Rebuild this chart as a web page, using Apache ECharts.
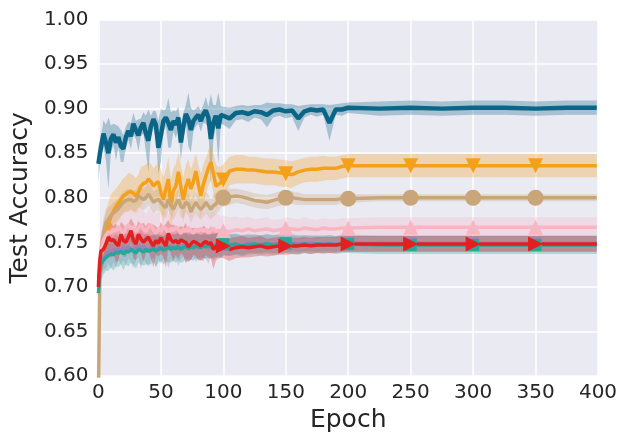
<!DOCTYPE html>
<html>
<head>
    <meta charset="utf-8">
    <title>test accuracy</title>
    <script src="https://cdn.jsdelivr.net/npm/echarts@6/dist/echarts.min.js"></script>
    <style>
        body { margin: 0; background: #fff; }
        #chart { width: 621px; height: 438px; }
    </style>
</head>
<body>
<div id="chart"></div>
<script>
    // epochs where values were read (dense early, sparse once flat)
    var epochs = [0, 1,
        2, 4, 6, 8, 10, 12, 14, 16, 18, 20,
        22, 24, 26, 28, 30, 32, 34, 36, 38, 40,
        42, 44, 46, 48, 50, 52, 54, 56, 58, 60,
        62, 64, 66, 68, 70, 72, 74, 76, 78, 80,
        82, 84, 86, 88, 90, 92, 94, 96, 98, 100,
        105, 110, 115, 120, 125, 130, 135, 140, 145, 150,
        155, 160, 165, 170, 175, 180, 185, 190, 195, 200,
        225, 250, 275, 300, 325, 350, 375, 399];
    var xTicks = [0, 50, 100, 150, 200, 250, 300, 350, 400];
    var yTicks = [0.60, 0.65, 0.70, 0.75, 0.80, 0.85, 0.90, 0.95, 1.00];
    var markerEpochs = [100, 150, 200, 250, 300, 350];

    var blueMean = [0.838, 0.848,
        0.856, 0.872, 0.862, 0.850, 0.866, 0.871, 0.862, 0.868, 0.858, 0.855,
        0.868, 0.875, 0.869, 0.883, 0.876, 0.870, 0.879, 0.884, 0.872, 0.864,
        0.880, 0.888, 0.882, 0.856, 0.870, 0.886, 0.890, 0.884, 0.876, 0.886,
        0.882, 0.890, 0.862, 0.880, 0.894, 0.888, 0.876, 0.886, 0.890, 0.893,
        0.886, 0.894, 0.898, 0.890, 0.866, 0.884, 0.892, 0.878, 0.893, 0.892,
        0.889, 0.895, 0.896, 0.894, 0.897, 0.896, 0.893, 0.898, 0.899, 0.897,
        0.898, 0.889, 0.897, 0.899, 0.898, 0.899, 0.884, 0.899, 0.899, 0.901,
        0.900, 0.901, 0.900, 0.901, 0.901, 0.900, 0.901, 0.901];
    var blueStd = [0.020, 0.015,
        0.012, 0.015, 0.020, 0.040, 0.015, 0.012, 0.020, 0.012, 0.018, 0.015,
        0.012, 0.010, 0.015, 0.012, 0.010, 0.018, 0.010, 0.012, 0.020, 0.035,
        0.012, 0.010, 0.015, 0.030, 0.030, 0.012, 0.010, 0.028, 0.020, 0.012,
        0.015, 0.012, 0.020, 0.015, 0.010, 0.030, 0.025, 0.012, 0.010, 0.010,
        0.012, 0.010, 0.015, 0.012, 0.050, 0.020, 0.012, 0.040, 0.010, 0.010,
        0.012, 0.008, 0.008, 0.009, 0.007, 0.008, 0.014, 0.008, 0.007, 0.008,
        0.007, 0.014, 0.007, 0.006, 0.007, 0.006, 0.020, 0.006, 0.007, 0.006,
        0.008, 0.008, 0.008, 0.008, 0.008, 0.008, 0.008, 0.008];

    var orangeMean = [0.700, 0.712,
        0.728, 0.748, 0.761, 0.770, 0.779, 0.785, 0.790, 0.794, 0.798, 0.802,
        0.804, 0.806, 0.807, 0.805, 0.802, 0.806, 0.813, 0.816, 0.817, 0.821,
        0.818, 0.813, 0.816, 0.818, 0.806, 0.798, 0.810, 0.821, 0.790, 0.808,
        0.813, 0.829, 0.812, 0.798, 0.812, 0.821, 0.810, 0.818, 0.830, 0.815,
        0.802, 0.815, 0.824, 0.833, 0.840, 0.828, 0.813, 0.815, 0.817, 0.820,
        0.830, 0.832, 0.832, 0.831, 0.831, 0.830, 0.829, 0.829, 0.828, 0.827,
        0.826, 0.829, 0.831, 0.832, 0.832, 0.833, 0.833, 0.833, 0.835, 0.836,
        0.836, 0.836, 0.836, 0.836, 0.836, 0.836, 0.836, 0.836];
    var orangeStd = [0.010, 0.015,
        0.020, 0.025, 0.025, 0.025, 0.025, 0.022, 0.020, 0.020, 0.020, 0.020,
        0.020, 0.022, 0.020, 0.020, 0.020, 0.020, 0.022, 0.020, 0.020, 0.020,
        0.020, 0.020, 0.020, 0.022, 0.025, 0.025, 0.022, 0.025, 0.030, 0.025,
        0.025, 0.022, 0.025, 0.025, 0.025, 0.022, 0.022, 0.022, 0.020, 0.022,
        0.025, 0.022, 0.020, 0.020, 0.020, 0.022, 0.025, 0.020, 0.018, 0.018,
        0.016, 0.016, 0.016, 0.015, 0.015, 0.015, 0.015, 0.015, 0.015, 0.015,
        0.015, 0.014, 0.014, 0.014, 0.014, 0.014, 0.013, 0.013, 0.013, 0.013,
        0.013, 0.013, 0.013, 0.013, 0.013, 0.013, 0.013, 0.013];

    var tanMean = [0.575, 0.700,
        0.738, 0.760, 0.772, 0.776, 0.780, 0.783, 0.785, 0.788, 0.792, 0.795,
        0.797, 0.798, 0.798, 0.796, 0.797, 0.802, 0.800, 0.798, 0.800, 0.804,
        0.800, 0.795, 0.797, 0.798, 0.795, 0.791, 0.789, 0.798, 0.792, 0.787,
        0.793, 0.798, 0.790, 0.789, 0.795, 0.793, 0.784, 0.790, 0.795, 0.790,
        0.787, 0.790, 0.795, 0.791, 0.787, 0.791, 0.793, 0.796, 0.799, 0.800,
        0.801, 0.802, 0.801, 0.799, 0.797, 0.796, 0.795, 0.797, 0.799, 0.800,
        0.800, 0.799, 0.798, 0.798, 0.798, 0.798, 0.798, 0.798, 0.799, 0.799,
        0.800, 0.800, 0.800, 0.800, 0.800, 0.800, 0.800, 0.800];
    var tanStd = [0.020, 0.030,
        0.020, 0.015, 0.014, 0.013, 0.012, 0.012, 0.012, 0.012, 0.012, 0.012,
        0.012, 0.012, 0.012, 0.012, 0.012, 0.012, 0.012, 0.012, 0.012, 0.012,
        0.012, 0.012, 0.012, 0.012, 0.012, 0.012, 0.012, 0.012, 0.012, 0.012,
        0.012, 0.012, 0.012, 0.012, 0.012, 0.012, 0.012, 0.012, 0.012, 0.012,
        0.012, 0.012, 0.012, 0.012, 0.012, 0.012, 0.012, 0.012, 0.010, 0.010,
        0.009, 0.008, 0.008, 0.008, 0.008, 0.008, 0.008, 0.008, 0.008, 0.008,
        0.007, 0.007, 0.006, 0.006, 0.006, 0.006, 0.006, 0.006, 0.005, 0.005,
        0.004, 0.004, 0.004, 0.004, 0.004, 0.004, 0.004, 0.004];

    var pinkMean = [0.710, 0.728,
        0.740, 0.752, 0.758, 0.762, 0.760, 0.765, 0.762, 0.768, 0.764, 0.760,
        0.766, 0.770, 0.764, 0.768, 0.762, 0.766, 0.770, 0.765, 0.762, 0.767,
        0.770, 0.764, 0.760, 0.766, 0.762, 0.768, 0.765, 0.760, 0.766, 0.763,
        0.768, 0.764, 0.760, 0.765, 0.762, 0.767, 0.763, 0.760, 0.765, 0.762,
        0.766, 0.762, 0.765, 0.760, 0.763, 0.766, 0.762, 0.764, 0.761, 0.763,
        0.762, 0.764, 0.763, 0.765, 0.763, 0.764, 0.765, 0.763, 0.764, 0.766,
        0.765, 0.764, 0.766, 0.765, 0.764, 0.766, 0.765, 0.765, 0.766, 0.766,
        0.767, 0.767, 0.767, 0.767, 0.767, 0.767, 0.767, 0.767];
    var pinkStd = [0.025, 0.022,
        0.020, 0.020, 0.019, 0.020, 0.021, 0.019, 0.022, 0.019, 0.020, 0.022,
        0.019, 0.020, 0.022, 0.019, 0.022, 0.020, 0.019, 0.021, 0.020, 0.019,
        0.020, 0.021, 0.022, 0.019, 0.020, 0.019, 0.021, 0.022, 0.019, 0.020,
        0.019, 0.020, 0.022, 0.019, 0.020, 0.019, 0.021, 0.020, 0.019, 0.020,
        0.019, 0.020, 0.019, 0.021, 0.020, 0.019, 0.020, 0.018, 0.018, 0.017,
        0.016, 0.015, 0.014, 0.014, 0.013, 0.013, 0.013, 0.012, 0.012, 0.012,
        0.012, 0.012, 0.012, 0.011, 0.011, 0.011, 0.011, 0.011, 0.011, 0.011,
        0.011, 0.011, 0.011, 0.011, 0.011, 0.011, 0.011, 0.011];

    var purpleMean = [0.705, 0.720,
        0.728, 0.733, 0.736, 0.740, 0.738, 0.742, 0.740, 0.743, 0.741, 0.744,
        0.742, 0.745, 0.743, 0.741, 0.744, 0.746, 0.742, 0.745, 0.743, 0.741,
        0.744, 0.746, 0.743, 0.745, 0.742, 0.744, 0.746, 0.743, 0.745, 0.744,
        0.746, 0.743, 0.745, 0.747, 0.744, 0.746, 0.745, 0.747, 0.744, 0.746,
        0.745, 0.747, 0.746, 0.744, 0.747, 0.745, 0.746, 0.748, 0.746, 0.747,
        0.747, 0.748, 0.747, 0.749, 0.748, 0.748, 0.749, 0.748, 0.749, 0.748,
        0.749, 0.748, 0.749, 0.749, 0.748, 0.749, 0.749, 0.748, 0.749, 0.749,
        0.749, 0.749, 0.749, 0.749, 0.749, 0.749, 0.749, 0.749];
    var purpleStd = [0.020, 0.018,
        0.015, 0.014, 0.016, 0.013, 0.018, 0.014, 0.020, 0.013, 0.016, 0.014,
        0.018, 0.013, 0.015, 0.020, 0.014, 0.013, 0.022, 0.014, 0.016, 0.018,
        0.014, 0.013, 0.020, 0.014, 0.016, 0.013, 0.015, 0.022, 0.014, 0.016,
        0.013, 0.020, 0.014, 0.013, 0.018, 0.014, 0.015, 0.013, 0.016, 0.014,
        0.013, 0.015, 0.014, 0.018, 0.013, 0.015, 0.014, 0.013, 0.014, 0.012,
        0.012, 0.011, 0.011, 0.011, 0.010, 0.010, 0.010, 0.010, 0.010, 0.010,
        0.009, 0.009, 0.009, 0.009, 0.009, 0.009, 0.009, 0.009, 0.009, 0.009,
        0.009, 0.009, 0.009, 0.009, 0.009, 0.009, 0.009, 0.009];

    var tealMean = [0.693, 0.715,
        0.725, 0.730, 0.733, 0.735, 0.737, 0.736, 0.739, 0.738, 0.740, 0.737,
        0.740, 0.739, 0.742, 0.740, 0.738, 0.742, 0.741, 0.739, 0.742, 0.740,
        0.741, 0.743, 0.740, 0.742, 0.744, 0.741, 0.743, 0.745, 0.742, 0.744,
        0.743, 0.745, 0.742, 0.744, 0.746, 0.743, 0.745, 0.744, 0.746, 0.745,
        0.744, 0.746, 0.745, 0.747, 0.745, 0.746, 0.747, 0.745, 0.746, 0.748,
        0.747, 0.748, 0.746, 0.747, 0.748, 0.747, 0.748, 0.747, 0.748, 0.749,
        0.748, 0.747, 0.748, 0.747, 0.748, 0.747, 0.748, 0.747, 0.748, 0.748,
        0.747, 0.747, 0.747, 0.747, 0.747, 0.747, 0.747, 0.747];
    var tealStd = [0.030, 0.022,
        0.018, 0.016, 0.015, 0.017, 0.015, 0.018, 0.015, 0.016, 0.015, 0.018,
        0.015, 0.016, 0.015, 0.015, 0.018, 0.015, 0.016, 0.015, 0.017, 0.015,
        0.016, 0.015, 0.018, 0.015, 0.015, 0.016, 0.015, 0.017, 0.015, 0.015,
        0.016, 0.015, 0.015, 0.016, 0.014, 0.015, 0.014, 0.015, 0.014, 0.014,
        0.014, 0.013, 0.014, 0.013, 0.014, 0.013, 0.013, 0.014, 0.013, 0.012,
        0.012, 0.012, 0.012, 0.011, 0.011, 0.011, 0.011, 0.011, 0.011, 0.011,
        0.011, 0.011, 0.010, 0.010, 0.010, 0.010, 0.010, 0.010, 0.010, 0.010,
        0.010, 0.010, 0.010, 0.010, 0.010, 0.010, 0.010, 0.010];

    var redMean = [0.700, 0.728,
        0.740, 0.742, 0.748, 0.756, 0.752, 0.753, 0.749, 0.746, 0.759, 0.752,
        0.750, 0.756, 0.763, 0.752, 0.748, 0.759, 0.754, 0.750, 0.753, 0.756,
        0.750, 0.746, 0.752, 0.749, 0.755, 0.750, 0.746, 0.760, 0.753, 0.750,
        0.752, 0.749, 0.753, 0.751, 0.750, 0.745, 0.748, 0.751, 0.750, 0.748,
        0.746, 0.749, 0.751, 0.748, 0.750, 0.742, 0.745, 0.748, 0.747, 0.746,
        0.742, 0.744, 0.745, 0.744, 0.745, 0.746, 0.744, 0.745, 0.746, 0.746,
        0.746, 0.746, 0.747, 0.746, 0.747, 0.747, 0.747, 0.747, 0.748, 0.748,
        0.748, 0.748, 0.748, 0.748, 0.748, 0.748, 0.748, 0.748];
    var redStd = [0.025, 0.020,
        0.016, 0.015, 0.018, 0.014, 0.020, 0.015, 0.022, 0.016, 0.014, 0.018,
        0.016, 0.015, 0.014, 0.020, 0.018, 0.015, 0.016, 0.022, 0.015, 0.016,
        0.018, 0.024, 0.016, 0.015, 0.018, 0.016, 0.025, 0.015, 0.016, 0.020,
        0.016, 0.018, 0.015, 0.016, 0.022, 0.016, 0.018, 0.015, 0.016, 0.018,
        0.016, 0.020, 0.015, 0.016, 0.018, 0.022, 0.016, 0.015, 0.014, 0.014,
        0.013, 0.012, 0.012, 0.011, 0.011, 0.011, 0.010, 0.010, 0.010, 0.010,
        0.009, 0.009, 0.009, 0.009, 0.009, 0.009, 0.009, 0.009, 0.009, 0.009,
        0.009, 0.009, 0.009, 0.009, 0.009, 0.009, 0.009, 0.009];

    var runs = [
        {name: 'blue', color: '#0b6587', mean: blueMean, std: blueStd, width: 4.5, symbol: 'none'},
        {name: 'orange', color: '#f5a01a', mean: orangeMean, std: orangeStd, width: 3.5, symbol: 'triangle', rotate: 180, size: 15},
        {name: 'tan', color: '#c9a67a', mean: tanMean, std: tanStd, width: 3.5, symbol: 'circle', size: 16},
        {name: 'pink', color: '#f8b6c3', mean: pinkMean, std: pinkStd, width: 3.5, symbol: 'triangle', size: 15},
        {name: 'purple', color: '#9e7fbf', mean: purpleMean, std: purpleStd, width: 3.5, symbol: 'rect', size: 12},
        {name: 'teal', color: '#26a899', mean: tealMean, std: tealStd, width: 3.5, symbol: 'rect', size: 12},
        {name: 'red', color: '#e41f1f', mean: redMean, std: redStd, width: 3.5, symbol: 'triangle', rotate: -90, size: 15}
    ];

    function bandSeries(run) {
        return {
            type: 'custom',
            clip: true,
            silent: true,
            data: epochs.map(function (e, i) {
                return [e, run.mean[i] - run.std[i], run.mean[i] + run.std[i]];
            }),
            renderItem: function (params, api) {
                if (params.dataIndex !== 0) return null;
                var upper = [], lower = [];
                for (var i = 0; i < epochs.length; i++) {
                    upper.push(api.coord([epochs[i], run.mean[i] + run.std[i]]));
                    lower.unshift(api.coord([epochs[i], run.mean[i] - run.std[i]]));
                }
                var cs = params.coordSys;
                var pts = echarts.graphic.clipPointsByRect(upper.concat(lower), {
                    x: cs.x, y: cs.y, width: cs.width, height: cs.height
                });
                return {
                    type: 'polygon',
                    shape: {points: pts},
                    style: {fill: run.color, opacity: 0.3}
                };
            }
        };
    }

    function lineSeries(run) {
        return {
            type: 'line',
            silent: true,
            symbol: 'none',
            showSymbol: true,
            lineStyle: {color: run.color, width: run.width},
            itemStyle: {color: run.color},
            data: epochs.map(function (e, i) {
                if (run.symbol !== 'none' && markerEpochs.indexOf(e) >= 0) {
                    return {
                        value: [e, run.mean[i]],
                        symbol: run.symbol,
                        symbolSize: run.size,
                        symbolRotate: run.rotate || 0
                    };
                }
                return [e, run.mean[i]];
            })
        };
    }

    var series = [];
    runs.forEach(function (r) {
        series.push(bandSeries(r));
        series.push(lineSeries(r));
    });

    var chart = echarts.init(document.getElementById('chart'));
    var textColor = '#262626';
    var font = 'DejaVu Sans';
    chart.setOption({
        animation: false,
        grid: {
            left: 97, right: 23, top: 19.5, bottom: 60,
            show: true, backgroundColor: '#EAEAF2', borderWidth: 0
        },
        xAxis: {
            type: 'value',
            min: xTicks[0], max: xTicks[xTicks.length - 1], interval: 50,
            name: 'Epoch', nameLocation: 'middle', nameGap: 32,
            nameTextStyle: {fontSize: 25, color: textColor, fontFamily: font},
            axisLine: {show: false}, axisTick: {show: false},
            axisLabel: {fontSize: 20, color: textColor, fontFamily: font, margin: 7},
            splitLine: {lineStyle: {color: '#ffffff', width: 1.5}}
        },
        yAxis: {
            type: 'value',
            min: yTicks[0], max: yTicks[yTicks.length - 1], interval: 0.05,
            name: 'Test Accuracy', nameLocation: 'middle', nameGap: 61,
            nameTextStyle: {fontSize: 25, color: textColor, fontFamily: font},
            axisLine: {show: false}, axisTick: {show: false},
            axisLabel: {
                fontSize: 20, color: textColor, fontFamily: font, margin: 10,
                formatter: function (v) { return v.toFixed(2); }
            },
            splitLine: {lineStyle: {color: '#ffffff', width: 1.5}}
        },
        series: series
    });
</script>
</body>
</html>
